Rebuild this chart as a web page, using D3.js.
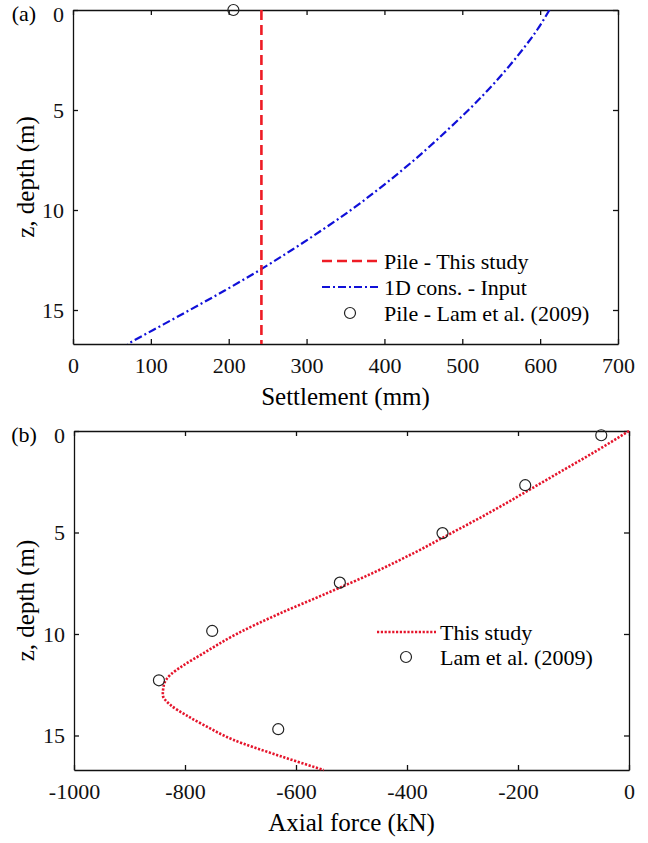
<!DOCTYPE html>
<html>
<head>
<meta charset="utf-8">
<script src="https://cdn.jsdelivr.net/npm/d3@7"></script>
<style>
  body { margin: 0; background: #fff; }
  .axis path, .axis line { stroke: #111; stroke-width: 1.3; }
</style>
</head>
<body>
<div id="chart"></div>
<script>
// (a) settlement profiles
var pileSettlement = 242;              // pile - this study (constant with depth)
var pileDepthRange = [0, 16.7];
var consDepth = [0, 1, 2, 3, 4, 5, 6, 7, 8, 9, 10, 11, 12, 13, 14, 15, 16, 16.7];
var consSettlement = [612, 596, 577, 556, 533, 508, 481, 453, 423, 391, 357, 320, 281, 240, 196, 150, 103, 70];
var lamPileDepth = [0];
var lamPileSettlement = [206];

// (b) axial force
var forceDepth = [0, 1, 2, 3, 4, 5, 6, 7, 8, 9, 10, 11, 11.6, 12, 12.5, 13, 13.5, 14, 14.5, 15.2, 16, 16.7];
var forceStudy = [0, -60, -123, -186, -250, -318, -387, -462, -545, -630, -707, -770, -806, -826, -838, -840, -826, -798, -765, -714, -630, -550];
var lamForceDepth = [0.21, 2.67, 5.03, 7.47, 9.85, 12.28, 14.69];
var lamForce = [-50, -187, -336, -521, -751, -847, -632];

var settleTicks = [0, 100, 200, 300, 400, 500, 600, 700];
var forceTicks = [-1000, -800, -600, -400, -200, 0];
var depthTicks = [0, 5, 10, 15];

var serif = '"Liberation Serif", "Times New Roman", "DejaVu Serif", serif';
var tickFont = '22px', titleFont = '25px', legFont = '22px';
var width = 648, height = 843;
var svg = d3.select('#chart').append('svg')
  .attr('width', width)
  .attr('height', height)
  .style('font-family', serif);

function plain(d) { return String(d); }

function drawFrame(g, x, y, xTicks, xTitle, tag) {
  var x0 = x.range()[0], x1 = x.range()[1];
  var y0 = y.range()[0], y1 = y.range()[1];

  g.append('g').attr('class', 'axis')
    .attr('transform', 'translate(0,' + y1 + ')')
    .call(d3.axisBottom(x).tickValues(xTicks).tickFormat(plain).tickSize(-5).tickPadding(13).tickSizeOuter(0))
    .selectAll('text').style('font-size', tickFont).style('font-family', serif).style('fill', '#111');

  g.append('g').attr('class', 'axis')
    .attr('transform', 'translate(0,' + y0 + ')')
    .call(d3.axisTop(x).tickValues(xTicks).tickSize(-5).tickFormat('').tickSizeOuter(0));

  g.append('g').attr('class', 'axis')
    .attr('transform', 'translate(' + x0 + ',0)')
    .call(d3.axisLeft(y).tickValues(depthTicks).tickFormat(plain).tickSize(-5).tickPadding(9).tickSizeOuter(0))
    .selectAll('text')
    .style('font-size', tickFont).style('font-family', serif).style('fill', '#111')
    .attr('dy', function(d) { return d === 0 ? '0.5em' : '0.32em'; });

  g.append('g').attr('class', 'axis')
    .attr('transform', 'translate(' + x1 + ',0)')
    .call(d3.axisRight(y).tickValues(depthTicks).tickSize(-5).tickFormat('').tickSizeOuter(0));

  g.append('text')
    .attr('x', (x0 + x1) / 2)
    .attr('y', y1 + 61)
    .attr('text-anchor', 'middle')
    .style('font-size', titleFont)
    .text(xTitle);

  g.append('text')
    .attr('transform', 'translate(34,' + ((y0 + y1) / 2) + ') rotate(-90)')
    .attr('text-anchor', 'middle')
    .style('font-size', titleFont)
    .text('z, depth (m)');

  g.append('text')
    .attr('x', 24)
    .attr('y', y0 + 11)
    .attr('text-anchor', 'middle')
    .style('font-size', tickFont)
    .text(tag);
}

// ---------- panel (a)
var xA = d3.scaleLinear().domain([0, 700]).range([73, 618]);
var yA = d3.scaleLinear().domain([0, 16.7]).range([10, 344]);
var gA = svg.append('g');

svg.append('clipPath').attr('id', 'clipA').append('rect')
  .attr('x', 73).attr('y', 10).attr('width', 545).attr('height', 334);

drawFrame(gA, xA, yA, settleTicks, 'Settlement (mm)', '(a)');

var consData = consDepth.map(function(d, i) { return { z: d, s: consSettlement[i] }; });

gA.append('path')
  .datum(consData)
  .attr('clip-path', 'url(#clipA)')
  .attr('fill', 'none')
  .attr('stroke', '#1010d8')
  .attr('stroke-width', 2.2)
  .attr('stroke-dasharray', '8,3,2,3')
  .attr('d', d3.line().x(function(d) { return xA(d.s); }).y(function(d) { return yA(d.z); }).curve(d3.curveMonotoneY));

gA.append('line')
  .attr('x1', xA(pileSettlement)).attr('x2', xA(pileSettlement))
  .attr('y1', yA(pileDepthRange[0])).attr('y2', yA(pileDepthRange[1]))
  .attr('stroke', '#ee1c25')
  .attr('stroke-width', 2.6)
  .attr('stroke-dasharray', '10,5');

gA.selectAll('circle.lam')
  .data(lamPileDepth)
  .enter().append('circle')
  .attr('class', 'lam')
  .attr('cx', function(d, i) { return xA(lamPileSettlement[i]); })
  .attr('cy', function(d) { return yA(d); })
  .attr('r', 5.5)
  .attr('fill', 'none')
  .attr('stroke', '#222')
  .attr('stroke-width', 1.2);

// legend (a)
var legA = gA.append('g').attr('transform', 'translate(322,0)');
legA.append('line').attr('x1', 0).attr('x2', 57).attr('y1', 261).attr('y2', 261)
  .attr('stroke', '#ee1c25').attr('stroke-width', 2.6).attr('stroke-dasharray', '10,5');
legA.append('line').attr('x1', 0).attr('x2', 57).attr('y1', 287).attr('y2', 287)
  .attr('stroke', '#1010d8').attr('stroke-width', 2.2).attr('stroke-dasharray', '8,3,2,3');
legA.append('circle').attr('cx', 28).attr('cy', 313).attr('r', 5.5)
  .attr('fill', 'none').attr('stroke', '#222').attr('stroke-width', 1.2);
[['Pile - This study', 261], ['1D cons. - Input', 287], ['Pile - Lam et al. (2009)', 313]].forEach(function(t) {
  legA.append('text').attr('x', 62).attr('y', t[1]).attr('dy', '0.35em')
    .style('font-size', legFont).text(t[0]);
});

// ---------- panel (b)
var xB = d3.scaleLinear().domain([-1000, 0]).range([74, 629]);
var yB = d3.scaleLinear().domain([0, 16.7]).range([431, 770]);
var gB = svg.append('g');

drawFrame(gB, xB, yB, forceTicks, 'Axial force (kN)', '(b)');

var forceData = forceDepth.map(function(d, i) { return { z: d, f: forceStudy[i] }; });

gB.append('path')
  .datum(forceData)
  .attr('fill', 'none')
  .attr('stroke', '#e5142b')
  .attr('stroke-width', 2.6)
  .attr('stroke-dasharray', '2.2,1.6')
  .attr('d', d3.line().x(function(d) { return xB(d.f); }).y(function(d) { return yB(d.z); }).curve(d3.curveMonotoneY));

gB.selectAll('circle.lam')
  .data(lamForceDepth)
  .enter().append('circle')
  .attr('class', 'lam')
  .attr('cx', function(d, i) { return xB(lamForce[i]); })
  .attr('cy', function(d) { return yB(d); })
  .attr('r', 5.5)
  .attr('fill', 'none')
  .attr('stroke', '#222')
  .attr('stroke-width', 1.2);

// legend (b)
var legB = gB.append('g').attr('transform', 'translate(377,0)');
legB.append('line').attr('x1', 0).attr('x2', 59).attr('y1', 632).attr('y2', 632)
  .attr('stroke', '#e5142b').attr('stroke-width', 2.6).attr('stroke-dasharray', '2.2,1.6');
legB.append('circle').attr('cx', 29).attr('cy', 657).attr('r', 5.5)
  .attr('fill', 'none').attr('stroke', '#222').attr('stroke-width', 1.2);
[['This study', 632], ['Lam et al. (2009)', 657]].forEach(function(t) {
  legB.append('text').attr('x', 63).attr('y', t[1]).attr('dy', '0.35em')
    .style('font-size', legFont).text(t[0]);
});
</script>
</body>
</html>
